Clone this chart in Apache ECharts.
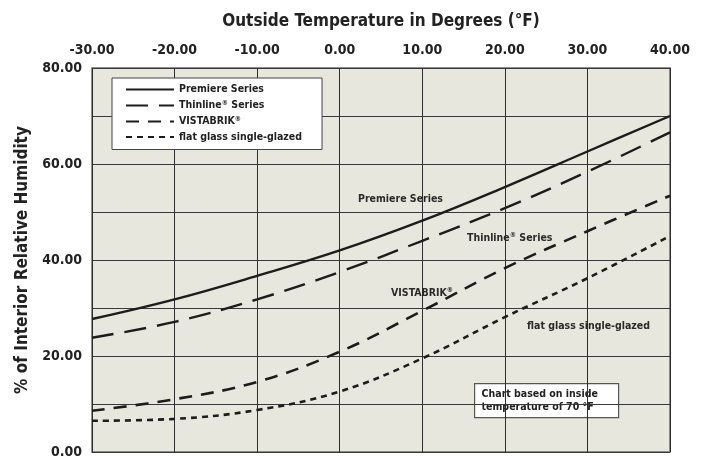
<!DOCTYPE html>
<html>
<head>
<meta charset="utf-8">
<script src="https://cdn.jsdelivr.net/npm/echarts@6/dist/echarts.min.js"></script>
<style>
html,body{margin:0;padding:0;background:#fff;}
#c{width:705px;height:460px;}
</style>
</head>
<body>
<div id="c"></div>
<script>
const temps = [-30, -20, -10, 0, 10, 20, 30, 40];
const premiere = [27.7, 31.8, 36.7, 42.0, 48.2, 55.2, 62.6, 70.0];
const thinline = [23.8, 27.1, 31.8, 37.5, 44.0, 50.8, 58.4, 66.6];
const vistabrik = [8.6, 11.0, 14.6, 20.9, 29.4, 38.3, 46.0, 53.4];
const flatGlass = [6.5, 6.9, 8.75, 12.6, 19.5, 28.1, 36.2, 45.0];
const seriesNames = ['Premiere Series', 'Thinline\u00AE Series', 'VISTABRIK\u00AE', 'flat glass single-glazed'];
const xTitle = 'Outside Temperature in Degrees (\u00B0F)';
const yTitle = '% of Interior Relative Humidity';
const noteLines = ['Chart based on inside', 'temperature of 70 \u00B0F'];

const FONT = '"DejaVu Sans Condensed", "Liberation Sans", sans-serif';
const INK = '#1c1c1c';
const pairs = vals => temps.map((t, i) => [t, vals[i]]);
const supify = s => s.replace(/\u00AE/g, '{sup|\u00AE}');
const richSup = {
  sup: { fontFamily: FONT, fontWeight: 'bold', fontSize: 7, verticalAlign: 'top', padding: [0, 0, 5, 0], color: '#2a2a2a', fill: '#2a2a2a' }
};

function mk(name, vals, type, width) {
  return {
    name: name, type: 'line', data: pairs(vals), smooth: 0.4,
    symbol: 'none', showSymbol: false, silent: true,
    lineStyle: { color: INK, width: width, type: type, cap: 'butt' },
    itemStyle: { color: INK }
  };
}

const chart = echarts.init(document.getElementById('c'), null, { renderer: 'canvas' });
const labelStyle = { fontFamily: FONT, fontWeight: 'bold', fontSize: 10.5, fill: '#2a2a2a', rich: richSup };
chart.setOption({
  animation: false,
  backgroundColor: '#ffffff',
  grid: {
    left: 92, right: 35, top: 68, bottom: 8, show: true,
    backgroundColor: '#e8e7dd', borderColor: '#6a6a6a', borderWidth: 1.5
  },
  legend: {
    orient: 'vertical', left: 112, top: 78,
    data: seriesNames,
    formatter: name => supify(name),
    backgroundColor: '#ffffff', borderColor: '#444', borderWidth: 1, borderRadius: 0,
    padding: [6, 20, 7, 13], itemGap: 4.5, itemWidth: 48, itemHeight: 11,
    itemStyle: { opacity: 0 },
    textStyle: { fontFamily: FONT, fontWeight: 'bold', fontSize: 10.5, color: '#222', rich: richSup }
  },
  xAxis: {
    type: 'value', position: 'top', min: -30, max: 40, interval: 10,
    name: xTitle, nameLocation: 'middle', nameGap: 38,
    nameTextStyle: { fontFamily: FONT, fontWeight: 'bold', fontSize: 17, color: '#222' },
    axisLine: { show: false }, axisTick: { show: false },
    axisLabel: { formatter: v => v.toFixed(2), fontFamily: FONT, fontWeight: 'bold', fontSize: 14, color: '#222', margin: 11 },
    splitLine: { show: true, lineStyle: { color: '#2e2e2e', width: 1 } }
  },
  yAxis: {
    type: 'value', min: 0, max: 80, interval: 10,
    name: yTitle, nameLocation: 'middle', nameGap: 59, nameRotate: 90,
    nameTextStyle: { fontFamily: FONT, fontWeight: 'bold', fontSize: 17, color: '#222' },
    axisLine: { show: false }, axisTick: { show: false },
    axisLabel: { formatter: v => (v % 20 === 0 ? v.toFixed(2) : ''), fontFamily: FONT, fontWeight: 'bold', fontSize: 14, color: '#222', margin: 10 },
    splitLine: { show: true, lineStyle: { color: '#3a3a3a', width: 1 } }
  },
  series: [
    mk(seriesNames[0], premiere, 'solid', 2.4),
    mk(seriesNames[1], thinline, [22, 11], 2.4),
    mk(seriesNames[2], vistabrik, [13, 9], 2.6),
    mk(seriesNames[3], flatGlass, [6, 5], 2.6)
  ],
  graphic: [
    { type: 'text', left: 358, top: 194, z: 100, style: Object.assign({}, labelStyle, { text: supify(seriesNames[0]) }) },
    { type: 'text', left: 467, top: 232, z: 100, style: Object.assign({}, labelStyle, { text: supify(seriesNames[1]) }) },
    { type: 'text', left: 391, top: 287, z: 100, style: Object.assign({}, labelStyle, { text: supify(seriesNames[2]) }) },
    { type: 'text', left: 527, top: 321, z: 100, style: Object.assign({}, labelStyle, { text: supify(seriesNames[3]) }) },
    {
      type: 'group', left: 474, top: 383, z: 100,
      children: [
        { type: 'rect', shape: { x: 0, y: 0, width: 144, height: 34 }, style: { fill: '#ffffff', stroke: '#555', lineWidth: 1.2 } },
        { type: 'text', x: 7, y: 4, style: Object.assign({}, labelStyle, { text: noteLines.join('\n'), lineHeight: 13, fill: '#222' }) }
      ]
    }
  ]
});
</script>
</body>
</html>
